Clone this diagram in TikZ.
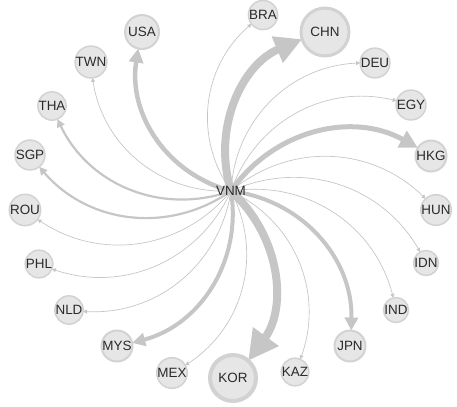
\documentclass[tikz,border=0pt]{standalone}
\usepackage{fontspec}
\setmainfont{Liberation Sans}
\usepackage{tikz}
\tikzset{
  every node/.style = {
    inner sep = 0pt,
    outer sep = 0pt
  }
}
\usetikzlibrary{
arrows.meta,
backgrounds
}
\definecolor{linkgray}{HTML}{C6C6C6}
\definecolor{nodefill}{HTML}{E6E6E6}
\definecolor{nodeline}{HTML}{D2D2D2}
\definecolor{labelgray}{HTML}{2A2A2A}

\begin{document}
\begin{tikzpicture}[
        x = 1bp,
        y = -1bp,
        country/.style={
          circle,
          fill = nodefill,
          draw = nodeline,
          line width = 1.5bp,
          minimum size = #1,
          text = labelgray,
          font = \fontsize{13.5}{14}\selectfont,
        },
        country/.default = 21bp,
        trade/.style 2 args={
          draw = linkgray,
          line width = #1,
          -{Triangle[length=#2, width=#2]},
          bend left = 42,
        },
        trade/.default = {0.7bp}{4bp},
        ]
        \useasboundingbox (0,0) rectangle (457,406);
        \node [text=labelgray, font=\fontsize{13.5}{14}\selectfont] (vnm) at (231,191) {VNM};
        \node [country=34bp, line width=2bp] (usa) at (142,32) {USA};
        \node [country=19bp] (twn) at (91,62) {TWN};
        \node [country=23bp] (tha) at (52,106) {THA};
        \node [country=25bp] (sgp) at (30,155) {SGP};
        \node [country=20bp] (rou) at (25,210) {ROU};
        \node [country] (phl) at (39,264) {PHL};
        \node [country] (nld) at (69,310) {NLD};
        \node [country=31bp, line width=2bp] (mys) at (117,346) {MYS};
        \node [country] (mex) at (172,373) {MEX};
        \node [country=46bp, line width=4bp] (kor) at (233,378) {KOR};
        \node [country] (kaz) at (295,372) {KAZ};
        \node [country=31bp, line width=2bp] (jpn) at (350,346) {JPN};
        \node [country] (ind) at (396,310) {IND};
        \node [country] (idn) at (426,263) {IDN};
        \node [country] (hun) at (436,210) {HUN};
        \node [country=31bp, line width=2bp] (hkg) at (431,156) {HKG};
        \node [country] (egy) at (411,105) {EGY};
        \node [country] (deu) at (375,63) {DEU};
        \node [country=48bp, line width=3bp] (chn) at (325,32) {CHN};
        \node [country] (bra) at (263,15) {BRA};
        \begin{scope}[on background layer]
          \draw [trade={4.5bp}{14bp}] (vnm.center) to (usa);
          \draw [trade] (vnm.center) to (twn);
          \draw [trade={2.2bp}{8bp}] (vnm.center) to (tha);
          \draw [trade={2.2bp}{8bp}] (vnm.center) to (sgp);
          \draw [trade] (vnm.center) to (rou);
          \draw [trade] (vnm.center) to (phl);
          \draw [trade] (vnm.center) to (nld);
          \draw [trade={4bp}{13bp}] (vnm.center) to (mys);
          \draw [trade] (vnm.center) to (mex);
          \draw [trade={8bp}{30bp}] (vnm.center) to (kor);
          \draw [trade] (vnm.center) to (kaz);
          \draw [trade={4bp}{13bp}] (vnm.center) to (jpn);
          \draw [trade] (vnm.center) to (ind);
          \draw [trade] (vnm.center) to (idn);
          \draw [trade] (vnm.center) to (hun);
          \draw [trade={5bp}{18bp}] (vnm.center) to (hkg);
          \draw [trade] (vnm.center) to (egy);
          \draw [trade] (vnm.center) to (deu);
          \draw [trade={8bp}{27bp}] (vnm.center) to (chn);
          \draw [trade] (vnm.center) to (bra);
        \end{scope}
\end{tikzpicture}
\end{document}
